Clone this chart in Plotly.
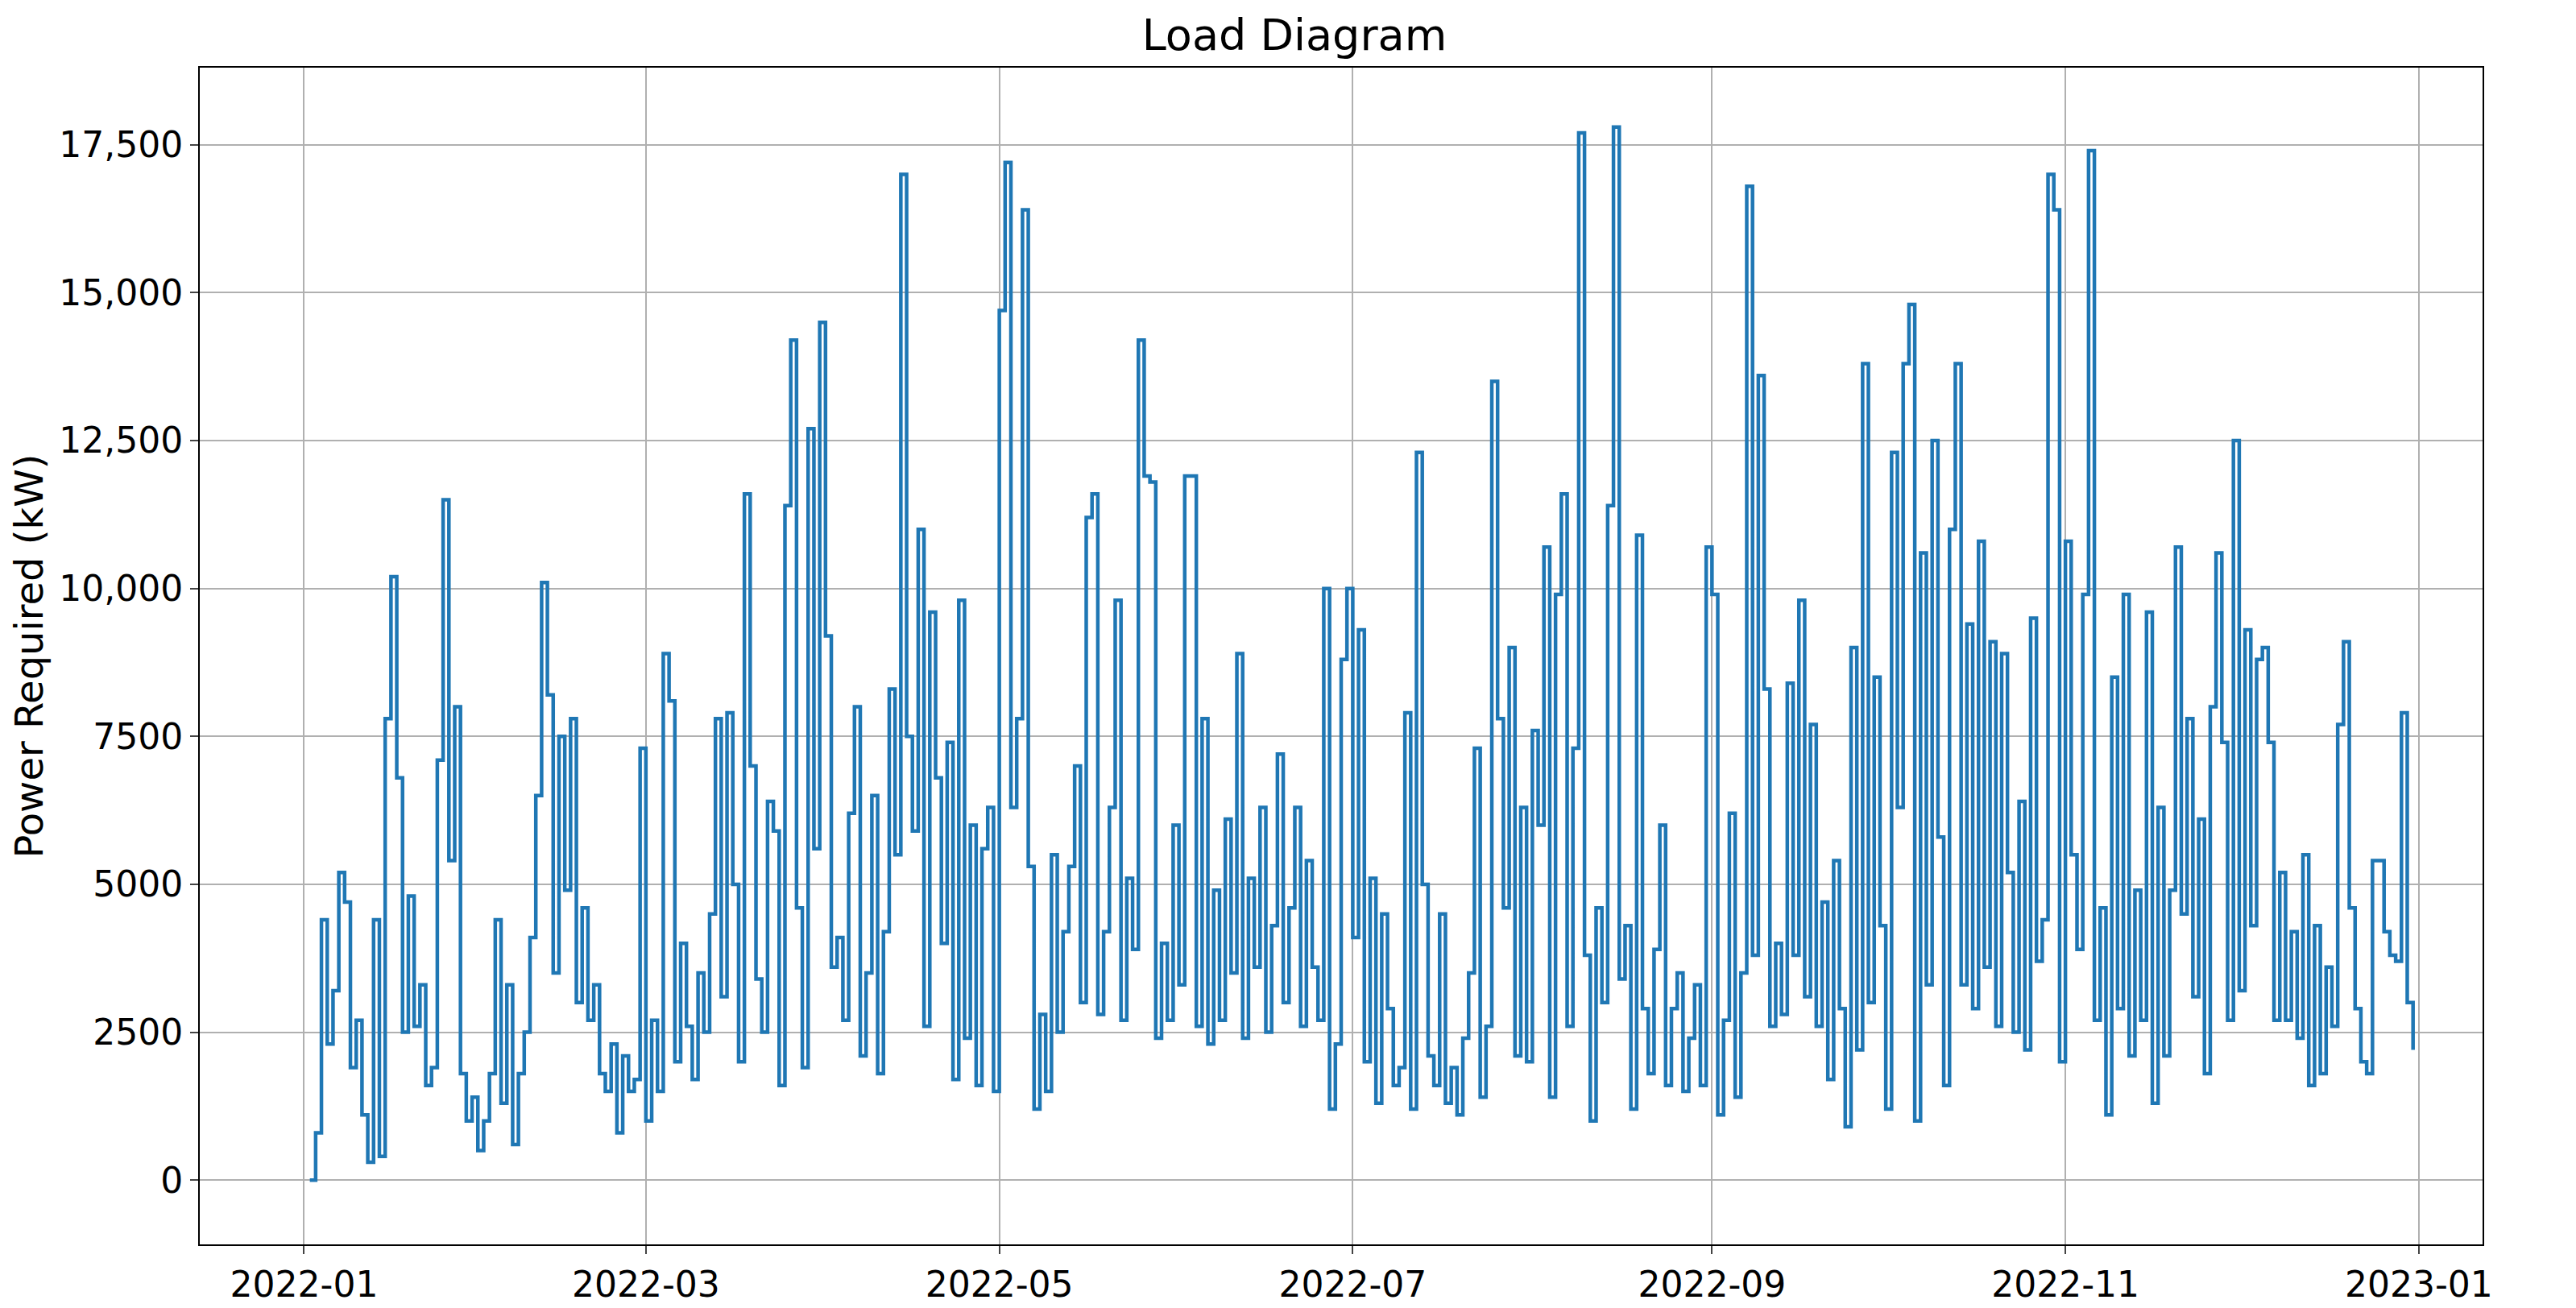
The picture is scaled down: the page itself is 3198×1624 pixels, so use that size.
import pandas as pd
import plotly.graph_objects as go

# daily load readings, 2022-01-02 .. 2022-12-31 (kW)
jan = [0, 800, 4400, 2300, 3200, 5200, 4700, 1900, 2700, 1100, 300, 4400, 400, 7800,
       10200, 6800, 2500, 4800, 2600, 3300, 1600, 1900, 7100, 11500, 5400, 8000, 1800,
       1000, 1400, 500]
feb = [1000, 1800, 4400, 1300, 3300, 600, 1800, 2500, 4100, 6500, 10100, 8200, 3500, 7500,
       4900, 7800, 3000, 4600, 2700, 3300, 1800, 1500, 2300, 800, 2100, 1500, 1700, 7300]
mar = [1000, 2700, 1500, 8900, 8100, 2000, 4000, 2600, 1700, 3500, 2500, 4500, 7800, 3100,
       7900, 5000, 2000, 11600, 7000, 3400, 2500, 6400, 5900, 1600, 11400, 14200, 4600,
       1900, 12700, 5600, 14500]
apr = [9200, 3600, 4100, 2700, 6200, 8000, 2100, 3500, 6500, 1800, 4200, 8300, 5500, 17000,
       7500, 5900, 11000, 2600, 9600, 6800, 4000, 7400, 1700, 9800, 2400, 6000, 1600, 5600,
       6300, 1500]
may = [14700, 17200, 6300, 7800, 16400, 5300, 1200, 2800, 1500, 5500, 2500, 4200, 5300,
       7000, 3000, 11200, 11600, 2800, 4200, 6300, 9800, 2700, 5100, 3900, 14200, 11900,
       11800, 2400, 4000, 2700, 6000]
jun = [3300, 11900, 11900, 2600, 7800, 2300, 4900, 2700, 6100, 3500, 8900, 2400, 5100, 3600,
       6300, 2500, 4300, 7200, 3000, 4600, 6300, 2600, 5400, 3600, 2700, 10000, 1200, 2300,
       8800, 10000]
jul = [4100, 9300, 2000, 5100, 1300, 4500, 2900, 1600, 1900, 7900, 1200, 12300, 5000, 2100,
       1600, 4500, 1300, 1900, 1100, 2400, 3500, 7300, 1400, 2600, 13500, 7800, 4600, 9000,
       2100, 6300, 2000]
aug = [7600, 6000, 10700, 1400, 9900, 11600, 2600, 7300, 17700, 3800, 1000, 4600, 3000,
       11400, 17800, 3400, 4300, 1200, 10900, 2900, 1800, 3900, 6000, 1600, 2900, 3500,
       1500, 2400, 3300, 1600, 10700]
sep = [9900, 1100, 2700, 6200, 1400, 3500, 16800, 3800, 13600, 8300, 2600, 4000, 2800, 8400,
       3800, 9800, 3100, 7700, 2600, 4700, 1700, 5400, 2900, 900, 9000, 2200, 13800, 3000,
       8500, 4300]
oct_ = [1200, 12300, 6300, 13800, 14800, 1000, 10600, 3300, 12500, 5800, 1600, 11000, 13800,
        3300, 9400, 2900, 10800, 3600, 9100, 2600, 8900, 5200, 2500, 6400, 2200, 9500, 3700,
        4400, 17000, 16400, 2000]
nov = [10800, 5500, 3900, 9900, 17400, 2700, 4600, 1100, 8500, 2900, 9900, 2100, 4900, 2700,
       9600, 1300, 6300, 2100, 4900, 10700, 4500, 7800, 3100, 6100, 1800, 8000, 10600, 7400,
       2700, 12500]
dec = [3200, 9300, 4300, 8800, 9000, 7400, 2700, 5200, 2700, 4200, 2400, 5500, 1600, 4300,
       1800, 3600, 2600, 7700, 9100, 4600, 2900, 2000, 1800, 5400, 5400, 4200, 3800, 3700,
       7900, 3000, 2200]

load = jan + feb + mar + apr + may + jun + jul + aug + sep + oct_ + nov + dec
dates = pd.date_range("2022-01-02", periods=len(load), freq="D")

y_ticks = [0, 2500, 5000, 7500, 10000, 12500, 15000, 17500]
y_labels = ["0", "2500", "5000", "7500", "10,000", "12,500", "15,000", "17,500"]
x_ticks = ["2022-01-01", "2022-03-01", "2022-05-01", "2022-07-01", "2022-09-01",
           "2022-11-01", "2023-01-01"]
x_labels = ["2022-01", "2022-03", "2022-05", "2022-07", "2022-09", "2022-11", "2023-01"]

fig = go.Figure(go.Scatter(x=dates, y=load, mode="lines", line_shape="hv",
                           line=dict(color="#1f77b4", width=4.5)))

axis = dict(showline=True, linecolor="black", linewidth=2, mirror=True, ticks="outside",
            ticklen=10, tickwidth=2, showgrid=True, gridcolor="#b0b0b0", gridwidth=2,
            zeroline=False, tickfont=dict(size=44, color="black"))

fig.update_layout(
    width=3198, height=1624,
    paper_bgcolor="white", plot_bgcolor="white",
    font=dict(family="DejaVu Sans", color="black"),
    margin=dict(l=234, r=124, t=76, b=84),
    title=dict(text="Load Diagram", x=0.5, xanchor="center", y=0.99, yanchor="top",
               font=dict(size=54)),
    showlegend=False,
    xaxis=dict(axis, range=["2021-12-14", "2023-01-12"], tickvals=x_ticks, ticktext=x_labels),
    yaxis=dict(axis, range=[-1087, 18804], tickvals=y_ticks, ticktext=y_labels,
               title=dict(text="Power Required (kW)", font=dict(size=48), standoff=20)),
)

fig.write_html("out.html")
